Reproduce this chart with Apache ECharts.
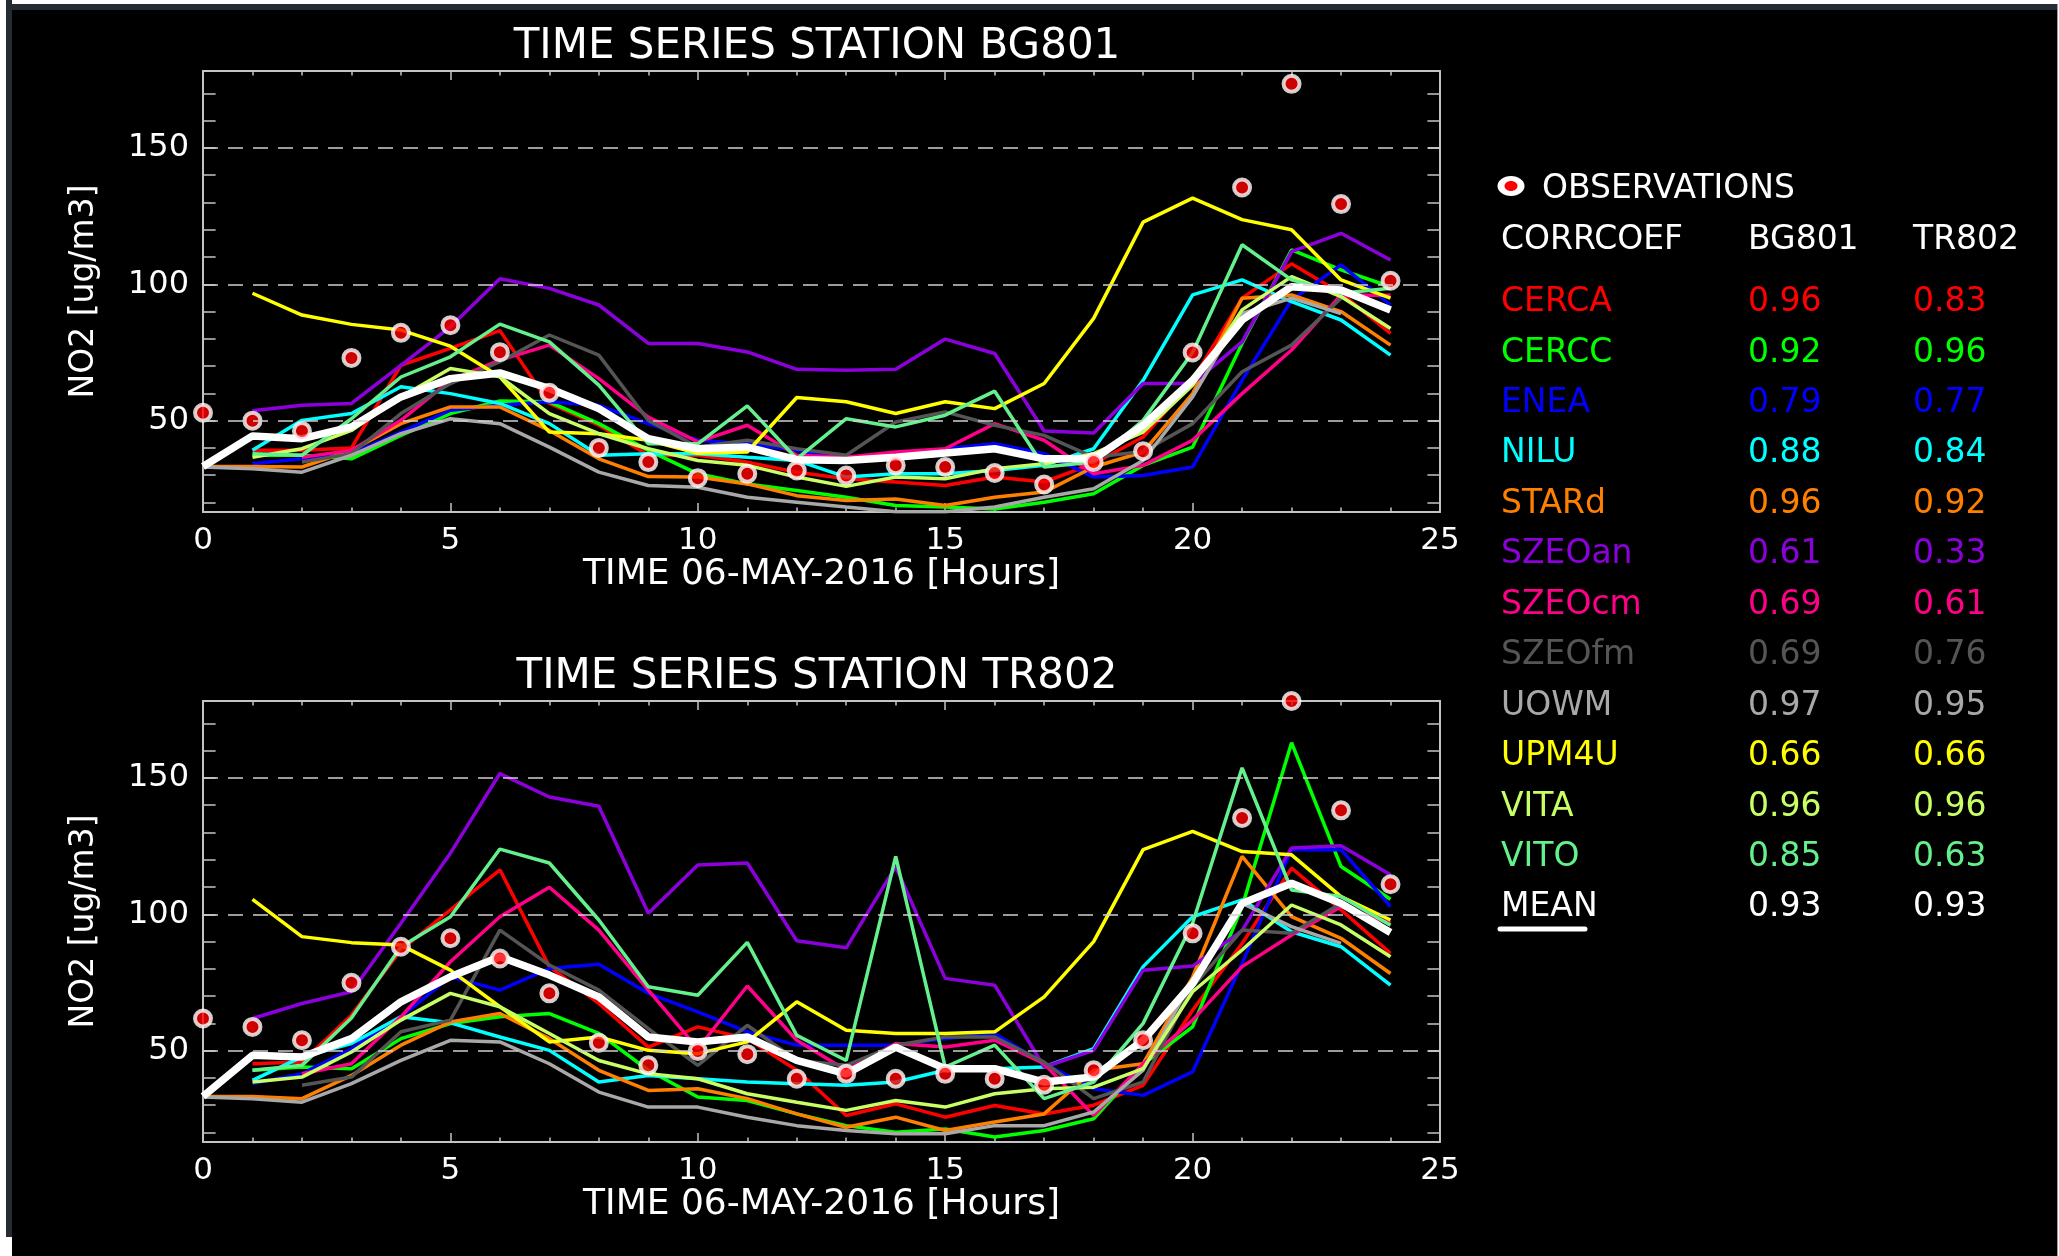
<!DOCTYPE html>
<html>
<head>
<meta charset="utf-8">
<title>NO2 time series BG801 / TR802</title>
<script src="https://cdn.jsdelivr.net/npm/echarts@6/dist/echarts.min.js"></script>
<style>
  html, body { margin: 0; padding: 0; background: #fff; }
  #chart { width: 2059px; height: 1256px; }
</style>
</head>
<body>
<div id="chart"></div>
<script>
// hours of 06-MAY-2016
const hours = [0, 1, 2, 3, 4, 5, 6, 7, 8, 9, 10, 11, 12, 13, 14, 15, 16, 17, 18, 19, 20, 21, 22, 23, 24]
const yTicks = [20, 30, 40, 50, 60, 70, 80, 90, 100, 110, 120, 130, 140, 150, 160, 170]
const yLabels = [50, 100, 150]
const stations = ['BG801', 'TR802']

// observations (red dots)
const obsBG801 = [52.9, 50, 46.2, 73, 82.2, 85, 75.1, 60.2, 40, 34.8, 28.9, 30.5, 31.7, 29.9, 33.6, 33, 30.8, 26.6, 34.8, 38.8, 75, 135.5, 173.5, 129.4, 101.3]
const obsTR802 = [61.8, 58.7, 53.8, 74.9, 88.1, 91.2, 83.8, 71, 52.9, 44.6, 49.9, 48.7, 39.7, 41.5, 39.7, 41.5, 39.7, 37.5, 42.8, 53.8, 93, 135.3, 178.2, 138.1, 111]

// models, station BG801
const cercaBG801 = [null, 39.1, 39.1, 40, 70.3, 76.5, 83, 56.3, 48.3, 37.3, 37.3, 34.8, 31.1, 28.7, 27.5, 26.2, 29.3, 27.5, 34.2, 44, 64.8, 94.9, 107.5, 96.7, 82]
const cerccBG801 = [null, 37.3, 37.3, 36, 44.6, 52.6, 57.2, 56.9, 48.9, 39.1, 30.5, 26.8, 24.4, 21.9, 18.9, 18.3, 17.6, 20.1, 23.2, 33.6, 40.3, 78.3, 112.6, 105.3, 99.1]
const eneaBG801 = [null, 34.2, 36, 37.9, 45.8, 53.8, 55.6, 56.9, 55.6, 48.9, 42.8, 41.5, 39.1, 36, 36.6, 39.7, 41.5, 37.9, 29.3, 29.9, 33, 64.8, 94.2, 107.1, 92.4]
const niluBG801 = [null, 39.1, 50.1, 52.6, 62.4, 59.9, 56.3, 48.9, 37.3, 37.9, 37.9, 36.6, 35.4, 29.3, 30.5, 30.5, 31.7, 33.6, 39.7, 64.8, 96.1, 101.6, 93.6, 86.9, 74]
const stardBG801 = [33.2, 33.2, 33, 39.1, 48.9, 55, 55, 46.4, 36, 29.5, 29.3, 26.8, 22.5, 20.7, 21.3, 18.9, 21.9, 23.8, 33, 38.5, 59.9, 94.9, 96.1, 90, 77.7]
const szeoanBG801 = [null, 53.6, 55.6, 56.3, 70.3, 84.4, 102, 98.5, 92.4, 78.3, 78.3, 75.2, 68.8, 68.5, 68.8, 79.9, 74.6, 46.2, 45.5, 63.6, 63.6, 78.9, 112, 118.7, 108.9]
const szeocmBG801 = [null, null, 36.6, 39.1, 50.1, 64.8, 72.2, 77.7, 65.4, 51.3, 42.2, 48.3, 37.3, 36.6, 38.5, 39.7, 48.9, 42.8, 30.5, 33.6, 42.8, 59.9, 75.9, 96.1, 96]
const szeofmBG801 = [null, null, 34.8, 37.9, 52.6, 63.6, 71.6, 81.4, 74, 50.1, 40.3, 42.8, 39.7, 37.3, 49.5, 53.2, 48.3, 44.6, 36.6, 38.7, 48.9, 67.9, 77.7, 94.9, null]
const uowmBG801 = [33, 32.4, 31.1, 37.3, 45.2, 50.7, 48.9, 40.3, 31.1, 26.2, 25.6, 21.9, 20.1, 18.3, 16.6, 16.6, 18.3, 21.9, 25, 35.4, 58.7, 89.3, 94.9, 89.3, null]
const upm4uBG801 = [null, 96.7, 88.7, 85.3, 83.2, 77.3, 66.1, 45.8, 45.2, 42.8, 38, 38.5, 58.5, 56.9, 52.6, 56.9, 54.4, 63.6, 87.5, 122.8, 131.6, 123.7, 120, 101.6, 94.9]
const vitaBG801 = [null, 36.6, 39.7, 46.4, 58.7, 69.1, 66.1, 52.6, 45.2, 39.7, 35.4, 33.6, 29.3, 25.9, 29.3, 28.7, 32.4, 34.2, 37.9, 45.8, 63, 90.6, 102.8, 95.5, 83.8]
const vitoBG801 = [null, 37.9, 37.3, 50.7, 66, 73.4, 85.4, 78.9, 63, 41.5, 41.5, 55.4, 36, 50.7, 47.7, 52, 60.8, 33, 34.8, 50.1, 75, 114.5, 101.6, 96.7, 98.5]
const meanBG801 = [33.2, 44.4, 43.4, 47.7, 58.7, 65.4, 67.5, 61.8, 54.4, 43.4, 39.7, 40.3, 35.7, 35.4, 36.6, 38.1, 39.7, 36, 36, 48.3, 64.8, 86.9, 99.1, 97.9, 90.6]

// models, station TR802
const cercaTR802 = [null, 45.2, 45.8, 63, 86.9, 101.6, 116.3, 80.8, 67.3, 51.3, 58.7, 54.4, 42.8, 26.2, 30.5, 25.6, 29.9, 26.8, 30, 37.3, 64.8, 89.3, 116.9, 101.6, 85.7]
const cerccTR802 = [null, 42.8, 44, 43.4, 54.4, 59.9, 62.4, 63.6, 56.3, 42.8, 33, 31.7, 26.8, 22.5, 20.1, 21.3, 18.3, 20.7, 25, 45, 58.7, 102.8, 162.9, 117.5, 105.5]
const eneaTR802 = [null, 37.9, 41.5, 50.7, 62.4, 77.1, 72.2, 80.1, 81.7, 71, 64.2, 56.9, 52, 52, 52, 54.4, 56.3, 45.2, 36, 33.6, 42.2, 82, 123.7, 123.7, 102.8]
const niluTR802 = [null, 39.1, 47.7, 52.6, 62.4, 60.2, 55, 50.1, 38.5, 40.9, 39.7, 38.5, 37.9, 37.3, 38.5, 42.8, 43.4, 44, 50.7, 80.8, 99.1, 105.3, 93.6, 88.1, 74]
const stardTR802 = [33.2, 33.2, 32.4, 40.9, 52, 60.5, 63.6, 54.4, 42.8, 35.4, 36, 32.4, 26.8, 21.9, 25.6, 20.7, 23.8, 26.8, 42.8, 45.2, 77, 121.2, 99.1, 91.2, 78.3]
const szeoanTR802 = [null, 61.8, 67.3, 71.6, 96.7, 122.4, 151.6, 143, 139.6, 100.4, 118.1, 118.8, 90.3, 87.7, 117.5, 76.5, 74, 44, 50.1, 79.5, 81, 94, 124.3, 125.1, 114.5]
const szeocmTR802 = [null, null, 41.5, 45.2, 62.4, 82.6, 99.1, 109.9, 94.2, 72.2, 50.7, 73.7, 53.8, 42.8, 52.6, 51.3, 53.8, 45.2, 26.2, 45.2, 61.2, 80.8, 92.4, 102.8, 96.7]
const szeofmTR802 = [null, null, 37.3, 40.3, 56.9, 61.2, 94.2, 81.4, 72.2, 58.1, 44.6, 59.3, 46.4, 44.6, 52, 55, 55, 45.8, 32.4, 38.5, 73.4, 94.2, 93, 104, null]
const uowmTR802 = [33, 32.4, 31.1, 37.9, 46.4, 53.8, 53.2, 45.2, 34.8, 29.3, 29.3, 25.6, 22.5, 20.7, 19.5, 19.5, 22.5, 22.5, 27.5, 42.8, 75.9, 104, 95.5, 89.3, null]
const upm4uTR802 = [null, 105.5, 91.8, 89.6, 88.7, 79.5, 66.1, 53.2, 55, 50.1, 48.9, 53.2, 67.9, 57.5, 56.3, 56.3, 56.9, 69.7, 90, 123.7, 130.4, 123, 121.8, 106.5, 97.9]
const vitaTR802 = [null, 38.5, 40.3, 49.5, 61.2, 71, 66.1, 56.3, 46.4, 41.5, 39.7, 34.2, 31.1, 28.1, 31.7, 29.3, 34.2, 36, 36.6, 43.4, 71.6, 86.9, 103.4, 96.1, 84.4]
const vitoTR802 = [null, 42.8, 44.6, 62, 88.1, 99.1, 123.9, 118.8, 97.9, 73.4, 70.3, 89.7, 55.6, 46.4, 121.2, 44, 52, 32.4, 38.5, 60, 96.7, 153.7, 108.9, 106.5, 96]
const meanTR802 = [33.2, 48.3, 47.7, 54.4, 67.9, 77.1, 84.4, 77.7, 69.7, 55, 53.2, 55, 46.4, 41.5, 51.3, 43.4, 43.4, 38.5, 40.3, 53.8, 74.6, 104, 111.4, 104, 93.3]

// legend table
const models = ['CERCA', 'CERCC', 'ENEA', 'NILU', 'STARd', 'SZEOan', 'SZEOcm', 'SZEOfm', 'UOWM', 'UPM4U', 'VITA', 'VITO']
const modelColors = ['#ff0000', '#00ff00', '#0000ff', '#00ffff', '#ff8000', '#8c00dc', '#ff0088', '#555555', '#a8a8a8', '#ffff00', '#c8ff64', '#64f08c']
const corrBG801 = ['0.96', '0.92', '0.79', '0.88', '0.96', '0.61', '0.69', '0.69', '0.97', '0.66', '0.96', '0.85', '0.93']
const corrTR802 = ['0.83', '0.96', '0.77', '0.84', '0.92', '0.33', '0.61', '0.76', '0.95', '0.66', '0.96', '0.63', '0.93']

const modelsBG801 = [cercaBG801, cerccBG801, eneaBG801, niluBG801, stardBG801, szeoanBG801, szeocmBG801, szeofmBG801, uowmBG801, upm4uBG801, vitaBG801, vitoBG801]
const modelsTR802 = [cercaTR802, cerccTR802, eneaTR802, niluTR802, stardTR802, szeoanTR802, szeocmTR802, szeofmTR802, uowmTR802, upm4uTR802, vitaTR802, vitoTR802]

const FONT = "'DejaVu Sans', 'Liberation Sans', sans-serif"
const gridTops = [71, 701]
const Y_MIN = 16.5
const Y_MAX = 178.2

// [hour, value] pairs, skipping hours without a value
const pairs = values => hours.map((h, i) => [h, values[i]]).filter(p => p[1] !== null)

const axisColor = '#c4c4c4'
const xAxes = []
const yAxes = []
gridTops.forEach((top, i) => {
  const xBase = {
    type: 'value', gridIndex: i, min: 0, max: 25, interval: 5,
    axisLine: { show: true, onZero: false, lineStyle: { color: axisColor, width: 2 } },
    axisTick: { show: true, inside: true, length: 9, lineStyle: { color: axisColor, width: 1.5 } },
    minorTick: { show: true, splitNumber: 5, length: 4.5, lineStyle: { color: axisColor, width: 1.5 } },
    splitLine: { show: false }
  }
  xAxes.push(Object.assign({}, xBase, {
    position: 'bottom',
    axisLabel: { color: '#fff', fontSize: 31, fontFamily: FONT, margin: 13 },
    name: 'TIME 06-MAY-2016 [Hours]',
    nameLocation: 'middle',
    nameGap: 42,
    nameTextStyle: { color: '#fff', fontSize: 36, fontFamily: FONT }
  }))
  xAxes.push(Object.assign({}, xBase, { position: 'top', axisLabel: { show: false } }))
  const yBase = {
    type: 'value', gridIndex: i, min: Y_MIN, max: Y_MAX,
    axisLine: { show: true, onZero: false, lineStyle: { color: axisColor, width: 2 } },
    axisTick: { show: true, inside: true, length: 12.6, customValues: yTicks, lineStyle: { color: axisColor, width: 1.5 } },
    splitLine: { show: false }
  }
  yAxes.push(Object.assign({}, yBase, {
    position: 'left',
    axisLabel: { color: '#fff', fontSize: 32, fontFamily: FONT, margin: 14, customValues: yLabels },
    name: 'NO2 [ug/m3]',
    nameLocation: 'middle',
    nameRotate: 90,
    nameGap: 102,
    nameTextStyle: { color: '#fff', fontSize: 33, fontFamily: FONT }
  }))
  yAxes.push(Object.assign({}, yBase, { position: 'right', axisLabel: { show: false } }))
})

const series = []
stations.forEach((st, i) => {
  const ax = { xAxisIndex: 2 * i, yAxisIndex: 2 * i }
  // dashed guide lines at 50 / 100 / 150
  series.push(Object.assign({
    type: 'line', data: [], z: 1, silent: true,
    markLine: {
      silent: true, symbol: 'none', label: { show: false },
      lineStyle: { color: '#d0d0d0', type: [15, 10], width: 1.5 },
      data: yLabels.map(v => ({ yAxis: v }))
    }
  }, ax))
  const modelData = i === 0 ? modelsBG801 : modelsTR802
  modelData.forEach((vals, k) => {
    series.push(Object.assign({
      type: 'line', name: models[k], data: pairs(vals), symbol: 'none', z: 2, silent: true,
      lineStyle: { color: modelColors[k], width: 3.5 }
    }, ax))
  })
  series.push(Object.assign({
    type: 'line', name: 'MEAN', data: pairs(i === 0 ? meanBG801 : meanTR802), symbol: 'none', z: 3, silent: true,
    lineStyle: { color: '#ffffff', width: 7.5 }
  }, ax))
  series.push(Object.assign({
    type: 'scatter', name: 'OBSERVATIONS', data: pairs(i === 0 ? obsBG801 : obsTR802), z: 4, clip: false, silent: true,
    symbolSize: 16,
    itemStyle: { color: '#ff0000', borderColor: '#ffffff', borderWidth: 4 }
  }, ax))
})

// text helper for graphic elements
const txt = (text, x, y, color, size, align) => ({
  type: 'text', silent: true, z: 10,
  style: {
    text, x, y, fill: color, font: size + 'px ' + FONT,
    align: align || 'left', textAlign: align || 'left',
    verticalAlign: 'middle', textVerticalAlign: 'middle'
  }
})

const graphics = [
  // window frame
  { type: 'rect', shape: { x: 0, y: 0, width: 2059, height: 10 }, style: { fill: '#262c33' } },
  { type: 'rect', shape: { x: 0, y: 0, width: 2059, height: 4 }, style: { fill: '#ffffff' } },
  { type: 'rect', shape: { x: 0, y: 0, width: 12, height: 1237 }, style: { fill: '#262c33' } },
  { type: 'rect', shape: { x: 0, y: 0, width: 6, height: 1256 }, style: { fill: '#ffffff' } },
  { type: 'rect', shape: { x: 0, y: 1237, width: 12, height: 19 }, style: { fill: '#ffffff' } },
  { type: 'rect', shape: { x: 2057, y: 4, width: 2, height: 1252 }, style: { fill: '#9a9a9a' } },
  { type: 'rect', shape: { x: 2058, y: 0, width: 1, height: 1256 }, style: { fill: '#ffffff' } },
  // titles
  txt('TIME SERIES STATION ' + stations[0], 817, 47, '#fff', 42, 'center'),
  txt('TIME SERIES STATION ' + stations[1], 817, 677, '#fff', 42, 'center'),
  // legend
  { type: 'ellipse', silent: true, z: 10, shape: { cx: 1511, cy: 186, rx: 13.5, ry: 10 }, style: { fill: '#ffffff' } },
  { type: 'ellipse', silent: true, z: 11, shape: { cx: 1511, cy: 186, rx: 6.5, ry: 5 }, style: { fill: '#ff0000' } },
  txt('OBSERVATIONS', 1542, 189, '#fff', 33),
  txt('CORRCOEF', 1501, 240, '#fff', 33),
  txt(stations[0], 1748, 240, '#fff', 33),
  txt(stations[1], 1913, 240, '#fff', 33)
]
const rowNames = models.concat(['MEAN'])
const rowColors = modelColors.concat(['#ffffff'])
rowNames.forEach((name, r) => {
  const y = 302.5 + r * 50.45
  graphics.push(txt(name, 1501, y, rowColors[r], 33))
  graphics.push(txt(corrBG801[r], 1748, y, rowColors[r], 33))
  graphics.push(txt(corrTR802[r], 1913, y, rowColors[r], 33))
})
graphics.push({ type: 'line', silent: true, z: 10, shape: { x1: 1500, y1: 929, x2: 1585, y2: 929 }, style: { stroke: '#fff', lineWidth: 5, lineCap: 'round' } })

const myChart = echarts.init(document.getElementById('chart'))
myChart.setOption({
  backgroundColor: '#000000',
  animation: false,
  grid: gridTops.map(top => ({ left: 203, top, width: 1237, height: 441 })),
  xAxis: xAxes,
  yAxis: yAxes,
  series,
  graphic: graphics
})
</script>
</body>
</html>
